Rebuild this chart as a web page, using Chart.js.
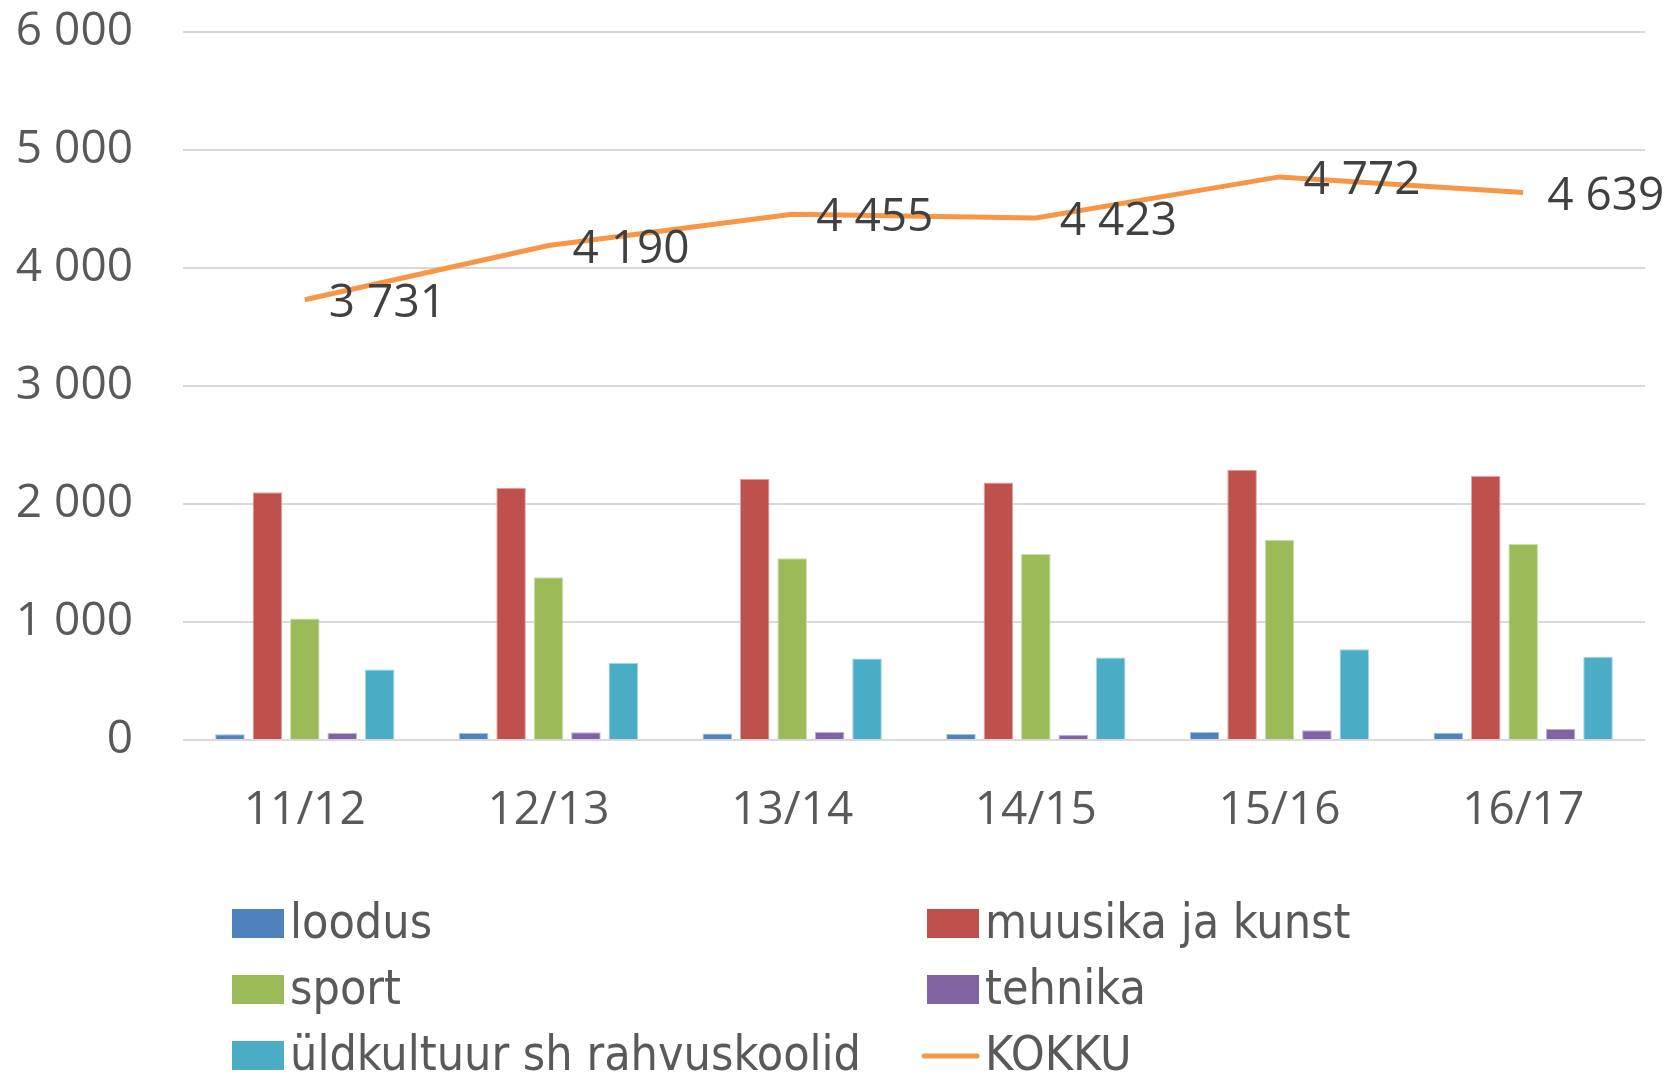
<!DOCTYPE html>
<html>
<head>
<meta charset="utf-8">
<script src="https://cdn.jsdelivr.net/npm/chart.js@4.4.0/dist/chart.umd.min.js"></script>
<style>
  html, body { margin: 0; padding: 0; background: #fff; }
  #wrap { width: 1667px; height: 1078px; }
</style>
</head>
<body>
<div id="wrap"><canvas id="chart" width="1667" height="1078"></canvas></div>
<script>
// data
const years = ['11/12', '12/13', '13/14', '14/15', '15/16', '16/17'];
const loodus = [48, 59, 56, 51, 68, 62];
const muusika = [2100, 2138, 2214, 2183, 2291, 2237];
const sport = [1030, 1379, 1540, 1577, 1698, 1661];
const tehnika = [59, 65, 68, 45, 82, 96];
const yldkultuur = [598, 652, 691, 700, 770, 705];
const kokku = [3731, 4190, 4455, 4423, 4772, 4639];
const yTicks = [0, 1000, 2000, 3000, 4000, 5000, 6000];

function fmt(v) {
  return String(v).replace(/\B(?=(\d{3})+(?!\d))/g, ' ');
}

const AXIS_FONT = '"Open Sans", "Noto Sans", sans-serif';
const LEGEND_FONT = '"DejaVu Sans Condensed", "Liberation Sans Narrow", sans-serif';

// labels for the KOKKU line, right of each point
const kokkuLabels = {
  id: 'kokkuLabels',
  afterDatasetsDraw(chart) {
    const ctx = chart.ctx;
    chart.data.datasets.forEach((ds, i) => {
      if (ds.type !== 'line') return;
      const meta = chart.getDatasetMeta(i);
      ctx.save();
      ctx.font = '46px ' + AXIS_FONT;
      ctx.fillStyle = '#404040';
      ctx.textAlign = 'left';
      ctx.textBaseline = 'middle';
      meta.data.forEach((pt, j) => {
        ctx.fillText(fmt(ds.data[j]), pt.x + 24, pt.y + 4);
      });
      ctx.restore();
    });
  }
};

// two-column legend under the chart
const gridLegend = {
  id: 'gridLegend',
  afterDraw(chart) {
    const ctx = chart.ctx;
    const colX = [232, 927];
    ctx.save();
    ctx.font = '48px ' + LEGEND_FONT;
    ctx.textBaseline = 'alphabetic';
    ctx.textAlign = 'left';
    chart.data.datasets.forEach((ds, i) => {
      const x = colX[i % 2];
      const base = 938 + 66 * Math.floor(i / 2);
      if (ds.type === 'line') {
        ctx.strokeStyle = ds.borderColor;
        ctx.lineWidth = 5;
        ctx.lineCap = 'round';
        ctx.beginPath();
        ctx.moveTo(x - 3, base - 14);
        ctx.lineTo(x + 50, base - 14);
        ctx.stroke();
      } else {
        ctx.fillStyle = ds.backgroundColor;
        ctx.fillRect(x, base - 29, 52, 29);
      }
      ctx.fillStyle = '#595959';
      ctx.fillText(ds.label, x + 58, base);
    });
    ctx.restore();
  }
};

new Chart(document.getElementById('chart'), {
  type: 'bar',
  data: {
    labels: years,
    datasets: [
      { label: 'loodus', data: loodus, backgroundColor: '#4F81BD', borderColor: '#A7C0DE', borderWidth: 1, order: 1 },
      { label: 'muusika ja kunst', data: muusika, backgroundColor: '#C0504D', borderColor: '#DFA7A6', borderWidth: 1, order: 1 },
      { label: 'sport', data: sport, backgroundColor: '#9BBB59', borderColor: '#CDDDAC', borderWidth: 1, order: 1 },
      { label: 'tehnika', data: tehnika, backgroundColor: '#8064A2', borderColor: '#BFB1D0', borderWidth: 1, order: 1 },
      { label: 'üldkultuur sh rahvuskoolid', data: yldkultuur, backgroundColor: '#4BACC6', borderColor: '#A5D5E2', borderWidth: 1, order: 1 },
      {
        type: 'line', label: 'KOKKU', data: kokku,
        borderColor: '#F79646', backgroundColor: '#F79646',
        borderWidth: 5, pointRadius: 0, tension: 0, fill: false, order: 0
      }
    ]
  },
  options: {
    responsive: false,
    animation: false,
    events: [],
    categoryPercentage: 0.768,
    barPercentage: 0.79,
    layout: { padding: { top: 32, right: 22, bottom: 0, left: 0 } },
    plugins: {
      legend: { display: false },
      tooltip: { enabled: false },
      title: { display: false }
    },
    scales: {
      x: {
        grid: { display: false, drawTicks: false },
        border: { display: false },
        ticks: { color: '#595959', font: { family: AXIS_FONT, size: 46 }, padding: 43 },
        afterFit(scale) { scale.height = 338; }
      },
      y: {
        min: 0,
        max: 6000,
        afterBuildTicks(scale) { scale.ticks = yTicks.map(v => ({ value: v })); },
        grid: { color: '#d9d9d9', lineWidth: 2, drawTicks: false },
        border: { display: false },
        ticks: {
          color: '#595959',
          font: { family: AXIS_FONT, size: 46 },
          padding: 50,
          callback: v => fmt(v)
        },
        afterFit(scale) {
          scale.width = 183;
          scale.paddingTop = 0;
          scale.paddingBottom = 0;
        }
      }
    }
  },
  plugins: [kokkuLabels, gridLegend]
});
</script>
</body>
</html>
